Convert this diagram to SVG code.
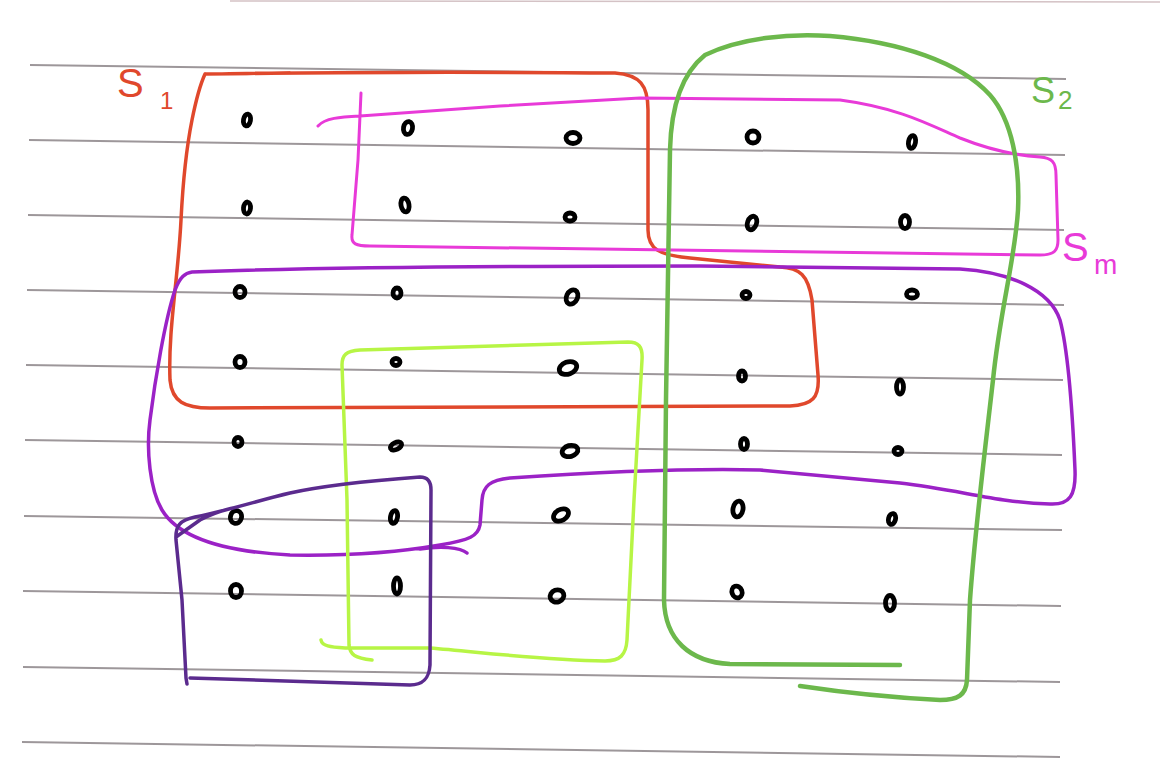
<svg xmlns="http://www.w3.org/2000/svg" width="1160" height="780" viewBox="0 0 1160 780">
<style>
.rule{stroke:#8c8588;stroke-width:2;fill:none;opacity:0.85}
.d{fill:none;stroke:#000;stroke-width:4.8}
.sh{fill:none;stroke-linecap:round;stroke-linejoin:round}
.lbl{font-family:"Liberation Sans","DejaVu Sans",sans-serif}
</style>
<rect x="0" y="0" width="1160" height="780" fill="#fff"/>
<g id="paper">
<line x1="230" y1="1" x2="1160" y2="2" stroke="#b89a9f" stroke-width="1.5" opacity="0.6"/>
<line class="rule" x1="30" y1="65" x2="1066" y2="79"/>
<line class="rule" x1="29" y1="140" x2="1065" y2="155"/>
<line class="rule" x1="28" y1="215" x2="1064" y2="230"/>
<line class="rule" x1="27" y1="290" x2="1064" y2="305"/>
<line class="rule" x1="26" y1="365" x2="1063" y2="380"/>
<line class="rule" x1="25" y1="440" x2="1062" y2="455"/>
<line class="rule" x1="24" y1="516" x2="1062" y2="530"/>
<line class="rule" x1="23" y1="591" x2="1061" y2="606"/>
<line class="rule" x1="23" y1="667" x2="1060" y2="682"/>
<line class="rule" x1="22" y1="742" x2="1060" y2="757"/>
</g>
<g id="points">
<ellipse class="d" cx="247" cy="120" rx="3.5" ry="6" transform="rotate(10 247 120)"/>
<ellipse class="d" cx="408" cy="128" rx="4.5" ry="6.5" transform="rotate(10 408 128)"/>
<ellipse class="d" cx="573" cy="138" rx="7" ry="5.5"/>
<ellipse class="d" cx="753" cy="137" rx="6" ry="6"/>
<ellipse class="d" cx="912" cy="142" rx="3.5" ry="6.5" transform="rotate(10 912 142)"/>
<ellipse class="d" cx="247" cy="208" rx="3.5" ry="6" transform="rotate(5 247 208)"/>
<ellipse class="d" cx="405" cy="205" rx="4" ry="7" transform="rotate(-10 405 205)"/>
<ellipse class="d" cx="570" cy="217" rx="5" ry="4"/>
<ellipse class="d" cx="752" cy="223" rx="4.5" ry="7" transform="rotate(20 752 223)"/>
<ellipse class="d" cx="905" cy="222" rx="4.5" ry="6.5"/>
<ellipse class="d" cx="240" cy="292" rx="5" ry="5.5"/>
<ellipse class="d" cx="397" cy="293" rx="4" ry="5"/>
<ellipse class="d" cx="572" cy="297" rx="5.5" ry="7.5" transform="rotate(25 572 297)"/>
<ellipse class="d" cx="746" cy="295" rx="4" ry="3.5"/>
<ellipse class="d" cx="912" cy="294" rx="5.5" ry="4"/>
<ellipse class="d" cx="240" cy="362" rx="5" ry="5.5"/>
<ellipse class="d" cx="396" cy="362" rx="4" ry="3.5"/>
<ellipse class="d" cx="568" cy="368" rx="9" ry="6" transform="rotate(-20 568 368)"/>
<ellipse class="d" cx="742" cy="376" rx="3.5" ry="5"/>
<ellipse class="d" cx="900" cy="387" rx="3.5" ry="7"/>
<ellipse class="d" cx="238" cy="442" rx="4" ry="4.5"/>
<ellipse class="d" cx="396" cy="446" rx="6" ry="3.5" transform="rotate(-25 396 446)"/>
<ellipse class="d" cx="570" cy="451" rx="8" ry="5.5" transform="rotate(-15 570 451)"/>
<ellipse class="d" cx="744" cy="444" rx="3.5" ry="5.5"/>
<ellipse class="d" cx="898" cy="451" rx="4" ry="3.5"/>
<ellipse class="d" cx="236" cy="517" rx="5.5" ry="6.5" transform="rotate(15 236 517)"/>
<ellipse class="d" cx="394" cy="517" rx="3.5" ry="6.5" transform="rotate(10 394 517)"/>
<ellipse class="d" cx="561" cy="515" rx="8" ry="5.5" transform="rotate(-30 561 515)"/>
<ellipse class="d" cx="738" cy="509" rx="5" ry="8" transform="rotate(10 738 509)"/>
<ellipse class="d" cx="892" cy="519" rx="3.5" ry="5.5" transform="rotate(15 892 519)"/>
<ellipse class="d" cx="236" cy="591" rx="5.5" ry="6.5"/>
<ellipse class="d" cx="397" cy="586" rx="3.5" ry="8"/>
<ellipse class="d" cx="557" cy="596" rx="7" ry="6" transform="rotate(-20 557 596)"/>
<ellipse class="d" cx="737" cy="592" rx="5" ry="6" transform="rotate(-20 737 592)"/>
<ellipse class="d" cx="890" cy="603" rx="4.5" ry="7.5"/>
</g>
<g id="connectors">
<g id="set-s1">
<path class="sh" stroke="#e0482c" stroke-width="3.5" d="M 205 74 L 290 73 M 222 74 C 300 72, 500 72, 615 73 C 640 75, 648 85, 648 110 L 648 230 C 648 250, 660 255, 690 258 L 780 267 C 800 268, 808 275, 812 300 L 818 375 C 820 398, 812 405, 790 406 L 210 408 C 185 408, 172 402, 170 380 C 168 330, 178 280, 181 220 C 183 180, 186 150, 192 120 C 196 100, 200 85, 205 74"/>
</g>
<g id="set-sm">
<path class="sh" stroke="#e83ad8" stroke-width="3" d="M 361 93 L 358 160 L 352 235 C 351 244, 356 246, 370 246 L 1040 255 C 1055 255, 1058 250, 1058 240 L 1056 175 C 1056 162, 1052 158, 1040 157 C 1010 155, 985 148, 960 138 C 930 125, 900 108, 840 100 L 640 98 L 500 106 L 360 116 C 340 117, 325 118, 318 126"/>
</g>
<g id="set-purple">
<path class="sh" stroke="#9b22c6" stroke-width="3.5" d="M 192 272 C 300 268, 500 266, 700 266 L 960 269 C 1010 272, 1050 290, 1060 320 C 1068 350, 1072 400, 1075 470 C 1076 495, 1070 505, 1050 504 C 1000 503, 960 490, 900 483 L 760 470 C 680 468, 600 472, 510 478 C 490 480, 483 486, 482 500 L 480 525 C 478 536, 470 540, 440 545 C 400 552, 350 556, 290 555 C 230 552, 180 540, 162 510 C 150 490, 146 450, 150 420 C 155 380, 165 320, 175 290 C 180 277, 185 273, 192 272 Z M 420 549 C 440 546, 460 547, 467 553"/>
</g>
<g id="set-lightgreen">
<path class="sh" stroke="#b7f545" stroke-width="3.5" d="M 321 640 C 322 646, 330 647, 345 648 L 430 648 C 480 652, 540 660, 605 661 C 620 661, 626 655, 627 640 L 634 500 L 642 360 C 643 346, 638 342, 628 342 L 360 350 C 346 351, 342 355, 342 365 L 347 500 L 349 645 C 350 655, 355 658, 372 660"/>
</g>
<g id="set-darkpurple">
<path class="sh" stroke="#5b2b8e" stroke-width="3.5" d="M 187 684 L 186 678 L 182 600 L 176 540 C 175 526, 180 520, 195 517 C 230 510, 260 500, 290 493 C 330 484, 380 480, 420 477 C 428 477, 431 482, 431 490 L 430 665 C 429 680, 422 685, 410 685 L 190 678 M 176 537 L 200 520 C 215 512, 225 510, 233 508"/>
</g>
<g id="set-s2">
<path class="sh" stroke="#6cb84c" stroke-width="4.5" d="M 900 665 L 730 664 C 690 662, 665 640, 664 600 L 666 400 L 670 150 C 671 110, 680 75, 705 55 C 740 38, 790 33, 830 36 C 900 42, 960 62, 990 95 C 1012 120, 1020 165, 1018 210 C 1015 260, 1000 310, 993 380 C 985 450, 975 530, 970 600 L 967 680 C 966 695, 958 700, 940 700 C 900 698, 840 692, 800 686"/>
</g>
</g>
<g id="labels" class="lbl">
<text x="117" y="97" font-size="40" fill="#e0482c">S</text>
<text x="160" y="109" font-size="24" fill="#e0482c">1</text>
<text x="1031" y="103" font-size="36" fill="#6cb84c">S</text>
<text x="1058" y="109" font-size="26" fill="#6cb84c">2</text>
<text x="1062" y="261" font-size="40" fill="#e83ad8">S</text>
<text x="1094" y="274" font-size="28" fill="#e83ad8">m</text>
</g>
</svg>
